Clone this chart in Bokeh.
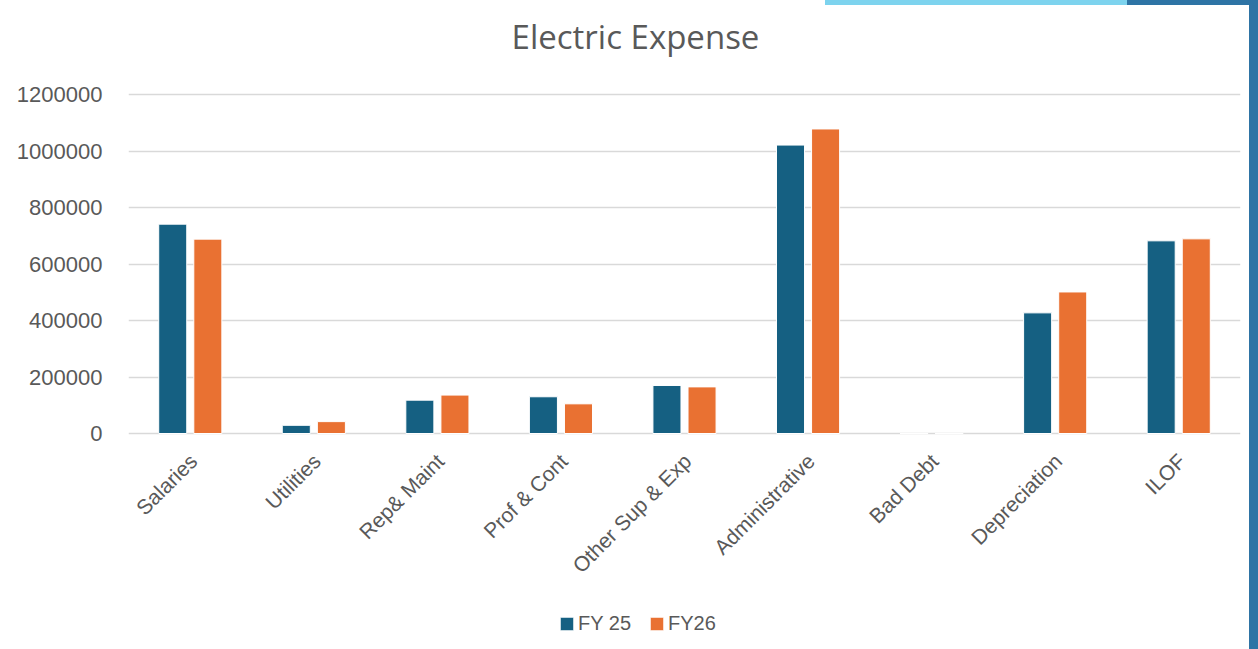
from bokeh.plotting import figure
from bokeh.models import (Range1d, FactorRange, Legend, LegendItem, Label,
                          FixedTicker, ColumnDataSource)
from bokeh.core.properties import value
from bokeh.transform import dodge
from bokeh.embed import file_html
from bokeh.resources import INLINE

# Expense categories and yearly totals
categories = ["Salaries", "Utilities", "Rep& Maint", "Prof & Cont", "Other Sup & Exp",
              "Administrative", "Bad Debt", "Depreciation", "ILOF"]
fy25 = [741000, 29000, 118000, 130000, 170000, 1021000, 0, 427000, 682000]
fy26 = [688000, 42000, 136000, 105000, 165000, 1078000, 0, 501000, 689000]
series_names = ["FY 25", "FY26"]
y_ticks = [0, 200000, 400000, 600000, 800000, 1000000, 1200000]

BLUE = "#156082"
ORANGE = "#E97132"
TEXT = "#595959"
GRID = "#d9d9d9"

W, H = 1258, 649
# plot-area placement in pixels: value axis runs from 0 (at AXIS_Y) to the top tick (at TOP_Y)
LEFT, RIGHT = 128, 18
TOP_Y, AXIS_Y = 94, 433
per_px = y_ticks[-1] / (AXIS_Y - TOP_Y)
y_start = -(H - AXIS_Y) * per_px
y_end = y_ticks[-1] + TOP_Y * per_px

src = ColumnDataSource(dict(cat=categories, fy25=fy25, fy26=fy26))

p = figure(width=W, height=H, output_backend="svg", toolbar_location=None,
           x_range=FactorRange(*categories, range_padding=0),
           y_range=Range1d(y_start, y_end), x_axis_location=None,
           min_border_left=LEFT, min_border_right=RIGHT, min_border_top=0,
           min_border_bottom=0)
p.title = None
p.outline_line_color = None
p.background_fill_color = None
p.border_fill_color = None

# slide frame accents behind the transparent canvas
p.styles = {
    "background": (
        "linear-gradient(#2E74A5,#2E74A5) 1249px 0px / 9px 649px no-repeat, "
        "linear-gradient(#2E74A5,#2E74A5) 1127px 0px / 131px 5px no-repeat, "
        "linear-gradient(#7DD3EE,#7DD3EE) 825px 0px / 302px 5px no-repeat, "
        "white"
    )
}

r25 = p.vbar(x=dodge("cat", -0.142, range=p.x_range), top="fy25", width=0.227,
             source=src, fill_color=BLUE, line_color="white", line_width=1)
r26 = p.vbar(x=dodge("cat", 0.142, range=p.x_range), top="fy26", width=0.227,
             source=src, fill_color=ORANGE, line_color="white", line_width=1)

# value axis
p.yaxis.ticker = FixedTicker(ticks=y_ticks)
p.yaxis.formatter.use_scientific = False
p.yaxis.axis_line_color = None
p.yaxis.major_tick_line_color = None
p.yaxis.minor_tick_line_color = None
p.yaxis.major_label_standoff = 20
p.yaxis.major_label_text_font = "Liberation Sans"
p.yaxis.major_label_text_font_size = "22px"
p.yaxis.major_label_text_color = TEXT

p.xgrid.grid_line_color = None
p.ygrid.grid_line_color = GRID
p.ygrid.grid_line_width = 1.5

# slanted category labels under the zero line
p.text(x="cat", y=0, text="cat", source=src, angle=0.785398,
       text_align="right", text_baseline="middle", x_offset=3, y_offset=24,
       text_font=value("Liberation Sans"), text_font_size="21px", text_color=TEXT)

# legend under the category labels
legend = Legend(items=[LegendItem(label=series_names[0], renderers=[r25]),
                       LegendItem(label=series_names[1], renderers=[r26])],
                orientation="horizontal", location=(430, 14),
                padding=0, margin=0, spacing=17, label_standoff=3,
                glyph_width=17, glyph_height=17,
                label_text_font="Liberation Sans", label_text_font_size="20px",
                label_text_color=TEXT, border_line_color=None,
                background_fill_alpha=0)
p.add_layout(legend, "center")

# chart title
p.add_layout(Label(x=635 - LEFT, y=H - 36, x_units="screen", y_units="screen",
                   text="Electric Expense", text_align="center", text_baseline="middle",
                   text_font="Open Sans", text_font_size="33px", text_color=TEXT))

open("out.html", "w").write(file_html(p, INLINE))
